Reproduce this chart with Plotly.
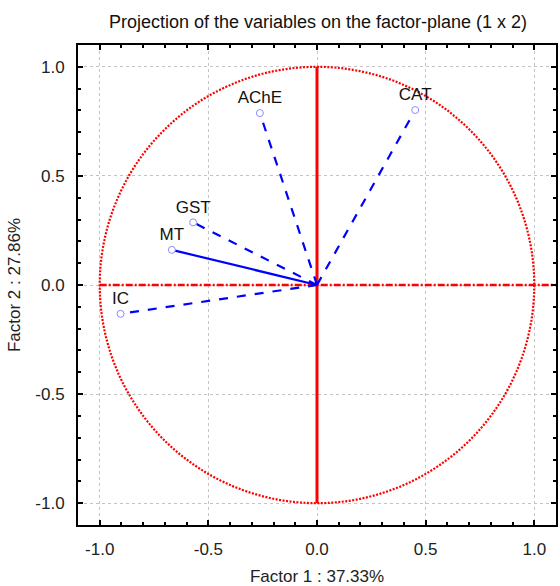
import plotly.graph_objects as go

# Variable loadings on factors 1 and 2
variables = ["CAT", "AChE", "GST", "MT", "IC"]
factor1 = [0.452, -0.263, -0.570, -0.668, -0.904]
factor2 = [0.802, 0.788, 0.287, 0.161, -0.132]
line_styles = ["dash", "dash", "dash", "solid", "dash"]

x_ticks = [-1.0, -0.5, 0.0, 0.5, 1.0]
y_ticks = [-1.0, -0.5, 0.0, 0.5, 1.0]
x_label = "Factor 1 : 37.33%"
y_label = "Factor 2 : 27.86%"
title = "Projection of the variables on the factor-plane (1 x 2)"

FONT = "Liberation Sans, Arial, sans-serif"
SIZE = 17

fig = go.Figure()

# Vectors from the origin to each variable
for name, fx, fy, dash in zip(variables, factor1, factor2, line_styles):
    fig.add_trace(go.Scatter(
        x=[0, fx], y=[0, fy], mode="lines",
        line=dict(color="#0000ff", width=2.2, dash=dash),
        hoverinfo="skip", showlegend=False,
    ))

# Variable end points with labels
fig.add_trace(go.Scatter(
    x=factor1, y=factor2, mode="markers+text",
    text=variables, textposition="top center",
    textfont=dict(family=FONT, size=SIZE, color="#111111"),
    marker=dict(symbol="circle", size=7, color="white", line=dict(width=1, color="#8c8cff")),
    showlegend=False,
))

# Unit circle of correlations (drawn above the grid, below the vectors)
fig.add_shape(type="circle", xref="x", yref="y", x0=-1, y0=-1, x1=1, y1=1,
              line=dict(color="#ff0000", width=2.2, dash="2px,1.5px"), layer="between")
# Factor axes through the origin
fig.add_shape(type="line", xref="x", yref="y", x0=-1, y0=0, x1=1.1, y1=0,
              line=dict(color="#ff0000", width=2.5, dash="7px,2px,2px,2px"), layer="between")
fig.add_shape(type="line", xref="x", yref="y", x0=0, y0=-1, x1=0, y1=1,
              line=dict(color="#ff0000", width=3), layer="between")

axis_common = dict(
    range=[-1.1, 1.1], showline=True, linecolor="black", linewidth=2, mirror="ticks",
    ticks="inside", ticklen=5, tickwidth=2, tickcolor="black",
    showgrid=True, gridcolor="#c4c4c4", griddash="dot", gridwidth=1,
    zeroline=False,
    tickfont=dict(family=FONT, size=SIZE, color="#222222"),
    minor=dict(dtick=0.1, ticks="inside", ticklen=3, tickwidth=2, tickcolor="black", showgrid=False),
)

fig.update_layout(
    width=560, height=586,
    margin=dict(l=78, r=2, t=45, b=61),
    paper_bgcolor="white", plot_bgcolor="white",
    font=dict(family=FONT, color="#222222"),
    title=dict(text=title, x=(78 + 558) / 2 / 560, xanchor="center", y=1 - 22 / 586, yanchor="middle",
               font=dict(family=FONT, size=18, color="#111111")),
    xaxis=dict(axis_common, tickvals=x_ticks, ticktext=[f"{v:.1f}" for v in x_ticks],
               ticklabelstandoff=8,
               title=dict(text=x_label, standoff=13, font=dict(family=FONT, size=SIZE, color="#222222"))),
    yaxis=dict(axis_common, tickvals=y_ticks, ticktext=[f"{v:.1f}" for v in y_ticks],
               ticklabelstandoff=8,
               title=dict(text=y_label, standoff=10, font=dict(family=FONT, size=SIZE, color="#222222"))),
)

fig.write_html("out.html")
